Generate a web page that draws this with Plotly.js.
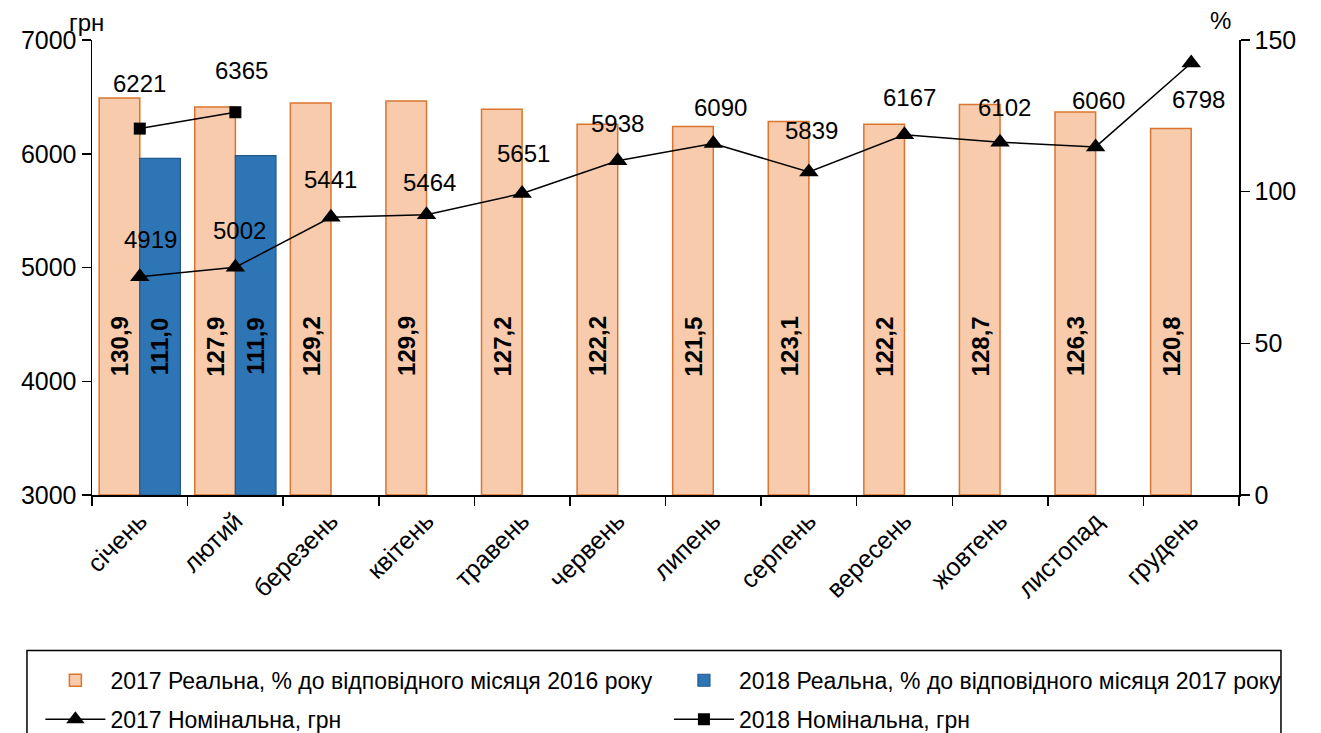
<!DOCTYPE html>
<html>
<head>
<meta charset="utf-8">
<script src="https://cdn.plot.ly/plotly-3.0.1.min.js"></script>
<style>html,body{margin:0;padding:0;background:#fff}#chart{width:1321px;height:733px}</style>
</head>
<body>
<div id="chart"></div>
<script>
// ---- data ----
var months = ['січень','лютий','березень','квітень','травень','червень','липень','серпень','вересень','жовтень','листопад','грудень'];
var months2018 = ['січень','лютий'];
var real2017 = [130.9,127.9,129.2,129.9,127.2,122.2,121.5,123.1,122.2,128.7,126.3,120.8];
var real2018 = [111.0,111.9];
var nom2017 = [4919,5002,5441,5464,5651,5938,6090,5839,6167,6102,6060,6798];
var nom2018 = [6221,6365];
var seriesNames = ['2017 Реальна, % до відповідного місяця 2016 року',
                   '2018 Реальна, % до відповідного місяця 2017 року',
                   '2017 Номінальна, грн',
                   '2018 Номінальна, грн'];

// ---- styling (label offsets in px) ----
var shift2017 = {x:[11,4,0,3,1,0,7,3,5,4,3,7], y:[37,37,38,32,40,37,36,42,37,35,46,-37]};
var shift2018 = {x:[0,6], y:[45,42]};
var FONT = 'Liberation Sans, Arial, sans-serif';
var fmt1 = function(v){ return v.toFixed(1).replace('.', ','); };

var traces = [
  {type:'bar', name:seriesNames[0], x:months, y:real2017, yaxis:'y', legend:'legend', legendgroup:'a',
   marker:{color:'#F8CBAD', line:{color:'#D9752E', width:1.5}}, hoverinfo:'skip'},
  {type:'bar', name:seriesNames[1], x:months2018, y:real2018, yaxis:'y', legend:'legend2', legendgroup:'b',
   marker:{color:'#2E75B6', line:{color:'#22598C', width:1.2}}, hoverinfo:'skip'},
  {type:'scatter', mode:'lines+markers', name:seriesNames[2], x:months, y:nom2017, yaxis:'y2',
   legend:'legend', legendgroup:'c',
   line:{color:'#000', width:1.5}, marker:{symbol:'triangle-up', size:17, color:'#000'}},
  {type:'scatter', mode:'lines+markers', name:seriesNames[3], x:months2018, y:nom2018, yaxis:'y2',
   legend:'legend2', legendgroup:'d',
   line:{color:'#000', width:1.5}, marker:{symbol:'square', size:12, color:'#000'}}
];

var ann = [];
real2017.forEach(function(v,i){
  ann.push({x:months[i], y:49, xref:'x', yref:'y', text:fmt1(v), showarrow:false, textangle:-90,
            xshift:-20, font:{family:FONT, size:24, color:'#000', weight:'bold'}});
});
real2018.forEach(function(v,i){
  ann.push({x:months2018[i], y:49, xref:'x', yref:'y', text:fmt1(v), showarrow:false, textangle:-90,
            xshift:20, font:{family:FONT, size:24, color:'#000', weight:'bold'}});
});
nom2017.forEach(function(v,i){
  ann.push({x:months[i], y:v, xref:'x', yref:'y2', text:String(v), showarrow:false,
            xshift:shift2017.x[i], yshift:shift2017.y[i], font:{family:FONT, size:24, color:'#000'}});
});
nom2018.forEach(function(v,i){
  ann.push({x:months2018[i], y:v, xref:'x', yref:'y2', text:String(v), showarrow:false,
            xshift:shift2018.x[i], yshift:shift2018.y[i], font:{family:FONT, size:24, color:'#000'}});
});
ann.push({xref:'paper', yref:'paper', x:-0.005, y:1.0, xanchor:'center', yanchor:'bottom', yshift:2,
          text:'грн', showarrow:false, font:{family:FONT, size:24, color:'#000'}});
ann.push({xref:'paper', yref:'paper', x:0.984, y:1.0, xanchor:'center', yanchor:'bottom', yshift:4,
          text:'%', showarrow:false, font:{family:FONT, size:24, color:'#000'}});

var legendCommon = {orientation:'v', xanchor:'left', yanchor:'top', y:-0.36,
  bgcolor:'rgba(0,0,0,0)', borderwidth:0, traceorder:'grouped', tracegroupgap:6, itemwidth:60,
  font:{family:FONT, size:23, color:'#000'}};

var layout = {
  width:1321, height:733,
  margin:{l:92, r:82, t:40, b:238, autoexpand:false},
  paper_bgcolor:'#fff', plot_bgcolor:'#fff',
  font:{family:FONT, size:24, color:'#000'},
  barmode:'group', bargap:0.15, bargroupgap:0,
  showlegend:true,
  xaxis:{type:'category', categoryorder:'array', categoryarray:months, automargin:false,
         range:[-0.5, months.length - 0.5],
         showline:true, linecolor:'#000', linewidth:1.5, ticks:'outside', ticklen:9, tickcolor:'#000',
         tickwidth:1.5, tickson:'boundaries', tickangle:-45, showgrid:false, zeroline:false,
         tickfont:{family:FONT, size:25, color:'#000'}},
  yaxis:{range:[0,150], dtick:50, side:'right', showline:true, linecolor:'#000', linewidth:1.5, automargin:false,
         ticks:'outside', ticklen:9, tickcolor:'#000', tickwidth:1.5, showgrid:false, zeroline:false,
         tickfont:{family:FONT, size:25, color:'#000'}},
  yaxis2:{range:[3000,7000], dtick:1000, side:'left', overlaying:'y', showline:true, linecolor:'#000', automargin:false,
          linewidth:1.5, ticks:'outside', ticklen:9, tickcolor:'#000', tickwidth:1.5, showgrid:false,
          zeroline:false, tickfont:{family:FONT, size:25, color:'#000'}},
  legend:Object.assign({}, legendCommon, {x:-0.045}),
  legend2:Object.assign({}, legendCommon, {x:0.503}),
  shapes:[{type:'rect', xref:'paper', yref:'paper', x0:-0.0567, x1:1.0366, y0:-0.342, y1:-0.56,
           line:{color:'#000', width:1.5}, fillcolor:'rgba(0,0,0,0)', layer:'below'}],
  annotations:ann
};

Plotly.newPlot('chart', traces, layout, {staticPlot:true});
</script>
</body>
</html>
